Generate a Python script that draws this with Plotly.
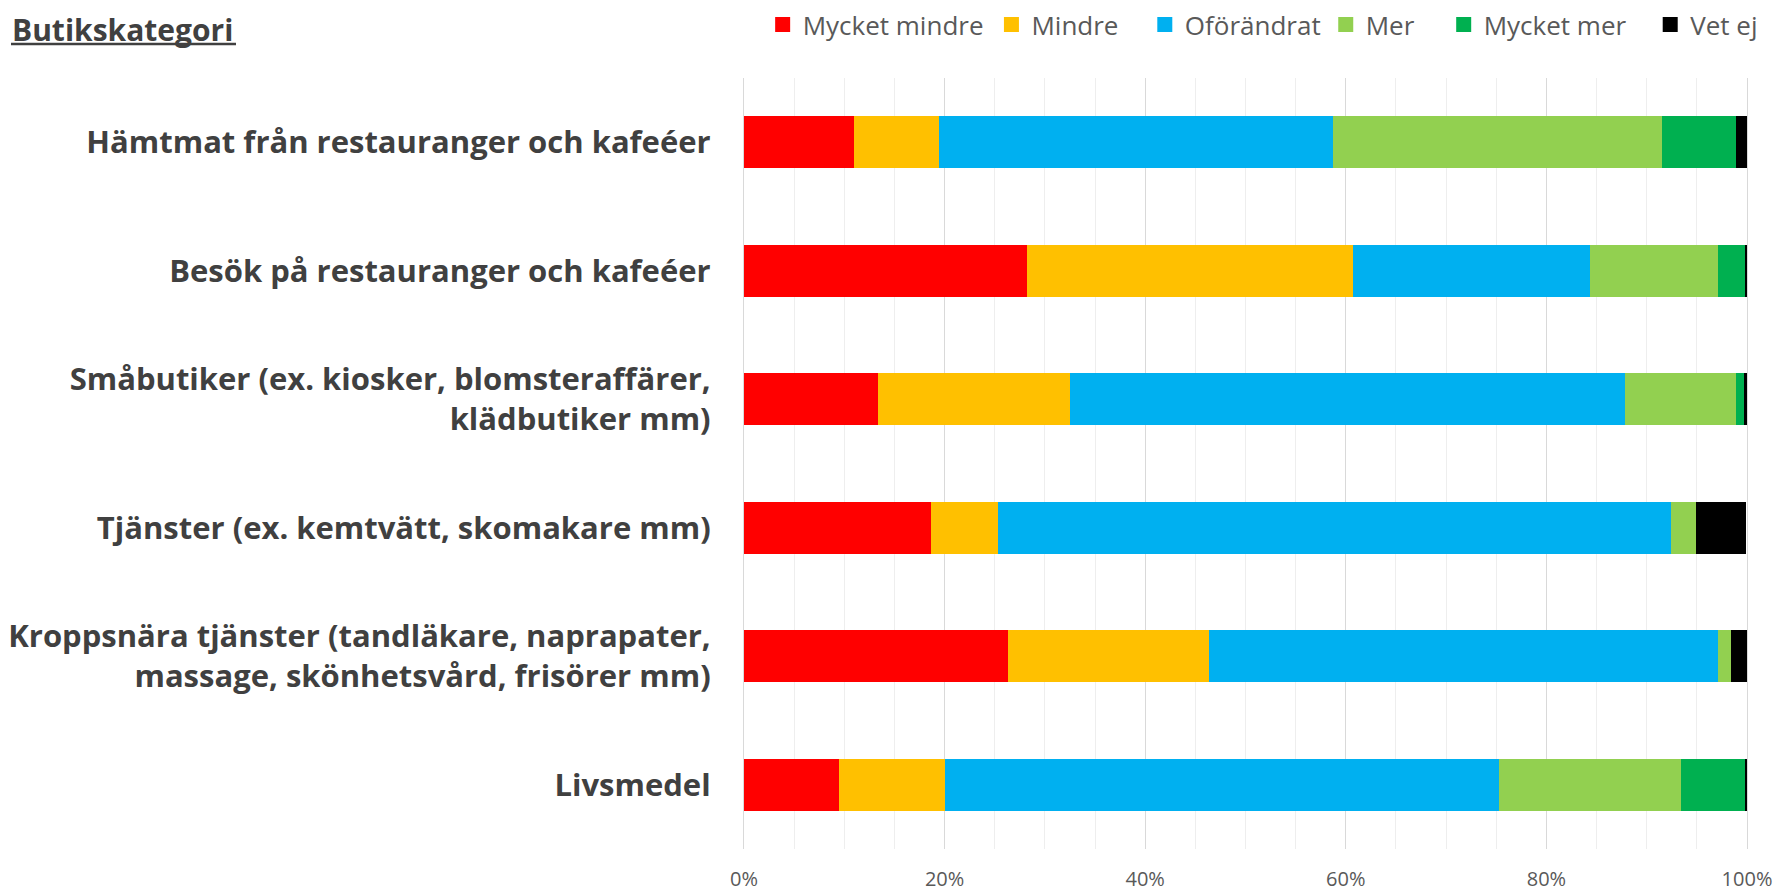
import plotly.graph_objects as go

categories = [
    "Hämtmat från restauranger och kafeéer",
    "Besök på restauranger och kafeéer",
    "Småbutiker (ex. kiosker, blomsteraffärer,<br>klädbutiker mm)",
    "Tjänster (ex. kemtvätt, skomakare mm)",
    "Kroppsnära tjänster (tandläkare, naprapater,<br>massage, skönhetsvård, frisörer mm)",
    "Livsmedel",
]

series_names = ["Mycket mindre", "Mindre", "Oförändrat", "Mer", "Mycket mer", "Vet ej"]

mycket_mindre = [11.0, 28.2, 13.4, 18.6, 26.3, 9.5]
mindre = [8.45, 32.5, 19.1, 6.7, 20.1, 10.5]
oforandrat = [39.3, 23.6, 55.3, 67.1, 50.7, 55.3]
mer = [32.75, 12.8, 11.1, 2.5, 1.3, 18.1]
mycket_mer = [7.45, 2.7, 0.8, 0.0, 0.0, 6.4]
vet_ej = [1.05, 0.2, 0.4, 5.0, 1.6, 0.2]

series_values = [mycket_mindre, mindre, oforandrat, mer, mycket_mer, vet_ej]
colors = ["#FF0000", "#FFC000", "#00B0F0", "#92D050", "#00B050", "#000000"]

tick_vals = [0, 20, 40, 60, 80, 100]
tick_text = ["0%", "20%", "40%", "60%", "80%", "100%"]

# legend positions (paper x) for each item
legend_x = [0.0186, 0.2467, 0.3996, 0.580, 0.6976, 0.9035]

# page has an 8px body margin (top/left), so the figure is 8px smaller than the window
W, H = 1779, 883
ML, MR, MT, MB = 736, 40, 70, 42
PW, PH = W - ML - MR, H - MT - MB

fig = go.Figure()
legend_keys = ["legend", "legend2", "legend3", "legend4", "legend5", "legend6"]
for name, vals, col, lk in zip(series_names, series_values, colors, legend_keys):
    fig.add_trace(go.Bar(
        y=categories, x=vals, name=name, orientation="h",
        marker=dict(color=col, line=dict(width=0)),
        legendgroup=name, showlegend=False,
        hovertemplate="%{y}<br>" + name + ": %{x:.1f}%<extra></extra>",
    ))
    # legend-only entry with a larger square swatch, linked to the bar series
    fig.add_trace(go.Scatter(
        x=[None], y=[None], mode="markers", name=name,
        marker=dict(symbol="square", size=15, color=col, line=dict(width=0)),
        legendgroup=name, legend=lk, showlegend=True, hoverinfo="skip",
    ))

legend_font = dict(family="Open Sans", size=26, color="#595959")
layout_legends = {}
for lk, lx in zip(legend_keys, legend_x):
    layout_legends[lk] = dict(
        x=lx, xanchor="left", y=(H - MB + 7) / PH, yanchor="top",
        orientation="h", font=legend_font, bgcolor="rgba(0,0,0,0)",
        borderwidth=0, itemclick=False, itemdoubleclick=False,
    )

fig.update_layout(
    width=W, height=H,
    margin=dict(l=ML, r=MR, t=MT, b=MB, pad=0, autoexpand=False),
    barmode="stack",
    bargap=0.595,
    plot_bgcolor="white",
    paper_bgcolor="white",
    font=dict(family="Open Sans", color="#404040"),
    showlegend=True,
    **layout_legends,
    xaxis=dict(
        range=[0, 100],
        tickvals=tick_vals, ticktext=tick_text,
        showgrid=True, gridcolor="#d9d9d9", gridwidth=1.3,
        minor=dict(dtick=5, showgrid=True, gridcolor="#eeeeee", gridwidth=1),
        zeroline=False, showline=False,
        tickfont=dict(family="Open Sans", size=20, color="#595959"),
        ticks="", ticklabelstandoff=16,
        fixedrange=True,
    ),
    yaxis=dict(
        autorange="reversed",
        showgrid=False, zeroline=False,
        showline=True, mirror=True, linecolor="#d9d9d9", linewidth=1.3,
        tickfont=dict(family="Open Sans", size=31, color="#404040", weight="bold"),
        ticks="", ticklabelstandoff=26,
        fixedrange=True,
    ),
    annotations=[dict(
        text="<b>Butikskategori</b>",
        xref="paper", yref="paper",
        x=(3 - ML) / PW, xanchor="left",
        y=(H - MB) / PH, yanchor="top",
        showarrow=False, borderpad=0,
        font=dict(family="Open Sans", size=30, color="#404040"),
    )],
    shapes=[dict(
        type="line", xref="paper", yref="paper",
        x0=(3 - ML) / PW, x1=(228 - ML) / PW,
        y0=(H - MB - 36) / PH, y1=(H - MB - 36) / PH,
        line=dict(color="#404040", width=2.5),
    )],
)

fig.write_html("out.html")
